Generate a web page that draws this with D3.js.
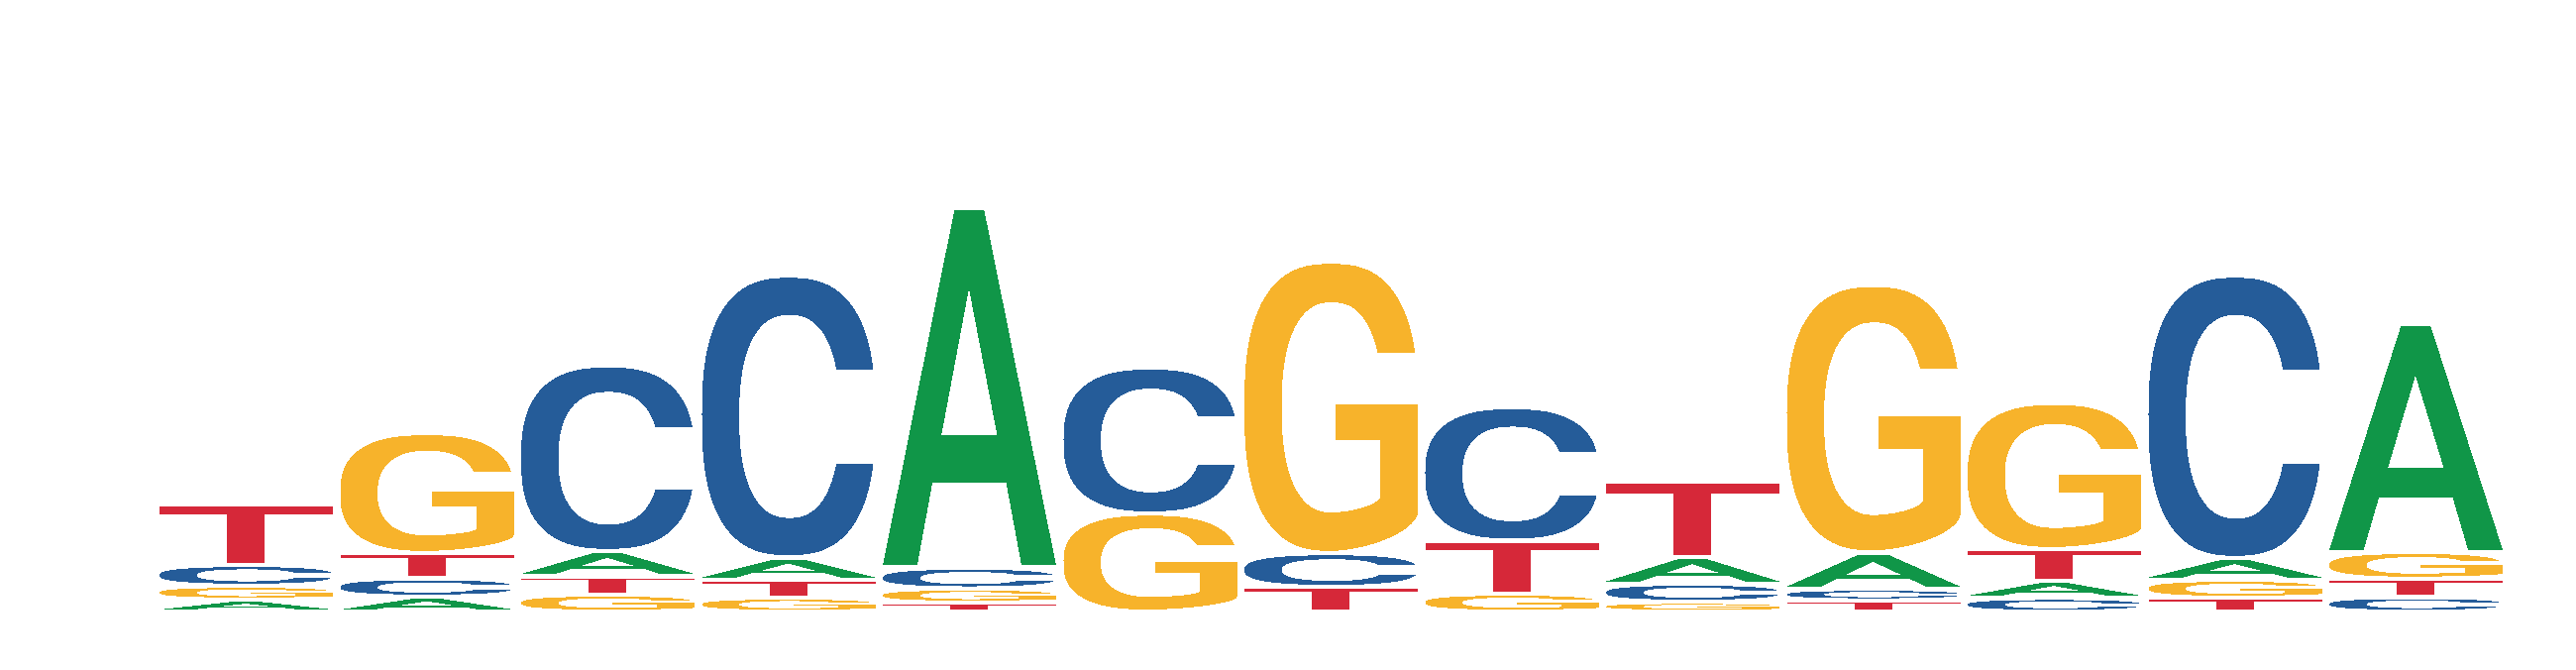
<!DOCTYPE html>
<html>
<head>
<meta charset="utf-8">
<script src="https://cdn.jsdelivr.net/npm/d3@7"></script>
<style>
  html, body { margin: 0; padding: 0; background: #ffffff; }
  svg { display: block; }
</style>
</head>
<body>
<svg id="chart" width="2600" height="676"></svg>
<script>
// Sequence logo data: information (bits) per letter at each position
const positions = [1, 2, 3, 4, 5, 6, 7, 8, 9, 10, 11, 12, 13];
const letters = ["A", "C", "G", "T"];
const bitsA = [0.040, 0.050, 0.083, 0.074, 1.190, 0.000, 0.000, 0.000, 0.088, 0.120, 0.056, 0.072, 0.754];
const bitsC = [0.069, 0.061, 0.614, 0.932, 0.069, 0.483, 0.112, 0.442, 0.060, 0.0385, 0.046, 0.934, 0.049];
const bitsG = [0.046, 0.397, 0.057, 0.047, 0.047, 0.325, 0.964, 0.060, 0.033, 0.885, 0.484, 0.060, 0.089];
const bitsT = [0.201, 0.083, 0.061, 0.059, 0.030, 0.000, 0.082, 0.175, 0.250, 0.0375, 0.105, 0.046, 0.060];
const yDomain = [0, 2];
const colors = { A: "#109648", C: "#255C99", G: "#F7B32B", T: "#D62839" };

const series = { A: bitsA, C: bitsC, G: bitsG, T: bitsT };

// ---- glyph outlines in a unit box (u: 0..1 left->right, v: 0..1 top->bottom) ----
function se(cx, cy, rx, ry, n, t) {
  const c = Math.cos(t), s = Math.sin(t);
  return [cx + rx * Math.sign(c) * Math.pow(Math.abs(c), 2 / n),
          cy + ry * Math.sign(s) * Math.pow(Math.abs(s), 2 / n)];
}
function tAtY(cy, ry, n, y) {
  const r = Math.min(1, Math.abs(y - cy) / ry);
  return Math.asin(Math.pow(r, n / 2));
}
function arc(cx, cy, rx, ry, n, t0, t1, steps) {
  const pts = [];
  for (let i = 0; i <= steps; i++) pts.push(se(cx, cy, rx, ry, n, t0 + (t1 - t0) * i / steps));
  return pts;
}
const NO = 2.6, NI = 2.4;
const OUT = [0.5, 0.5, 0.5, 0.5];
const INN = [0.505, 0.5, 0.29, 0.366];

function glyphC() {
  const a1 = tAtY(OUT[1], OUT[3], NO, 0.331), a2 = tAtY(OUT[1], OUT[3], NO, 0.671);
  const b1 = tAtY(INN[1], INN[3], NI, 0.331), b2 = tAtY(INN[1], INN[3], NI, 0.671);
  const outer = arc(...OUT, NO, -a1, -(2 * Math.PI - a2), 140);
  const inner = arc(...INN, NI, -(2 * Math.PI - b2), -b1, 120);
  return [outer.concat(inner)];
}
function glyphG() {
  const a1 = tAtY(OUT[1], OUT[3], NO, 0.311);
  const b1 = tAtY(INN[1], INN[3], NI, 0.311);
  const outer = arc(...OUT, NO, -a1, -1.5 * Math.PI, 120);              // top terminal -> top -> left -> bottom
  const outerCorner = arc(0.5, 0.867, 0.5, 0.133, 1.7, Math.PI / 2, 0, 30); // bottom -> right stem
  const bar = [[1.0, 0.491], [0.526, 0.491], [0.526, 0.614], [0.785, 0.614], [0.785, 0.81]];
  const innerCorner = arc(0.505, 0.81, 0.28, 0.056, 1.7, 0, Math.PI / 2, 24);
  const inner = arc(...INN, NI, -1.5 * Math.PI, -b1, 110);
  return [outer.concat(outerCorner, bar, innerCorner, inner)];
}
function glyphA() {
  return [
    [[0, 1], [0.413, 0], [0.585, 0], [1, 1], [0.8, 1], [0.712, 0.768], [0.286, 0.768], [0.199, 1]],
    [[0.497, 0.221], [0.659, 0.632], [0.339, 0.632]]
  ];
}
function glyphT() {
  return [[[0, 0], [1, 0], [1, 0.14], [0.608, 0.14], [0.608, 1], [0.39, 1], [0.39, 0.14], [0, 0.14]]];
}
const glyphs = { A: glyphA(), C: glyphC(), G: glyphG(), T: glyphT() };

function draw() {
  const svg = d3.select("#chart");
  const x = d3.scaleBand().domain(positions).range([161, 2526]).paddingInner(7.5 / 182.5).paddingOuter(0);
  const y = d3.scaleLinear().domain(yDomain).range([615, 5]);
  const gapPx = 4.5;

  const stacks = positions.map((p, i) => {
    const items = letters.map(L => ({ letter: L, value: series[L][i] }))
      .filter(d => d.value > 0)
      .sort((a, b) => a.value - b.value);
    let cum = 0;
    items.forEach(d => { d.y0 = cum; cum += d.value; d.y1 = cum; d.pos = p; });
    return items;
  });

  const g = svg.append("g");
  stacks.forEach(items => {
    items.forEach(d => {
      const x0 = x(d.pos), w = x.bandwidth();
      const bottom = y(d.y0);
      const top = y(d.y1) + gapPx;
      const h = bottom - top;
      if (h <= 0.5) return;
      const sx = d3.scaleLinear().domain([0, 1]).range([x0, x0 + w]);
      const sy = d3.scaleLinear().domain([0, 1]).range([top, bottom]);
      const p = d3.path();
      glyphs[d.letter].forEach(poly => {
        poly.forEach((pt, k) => {
          if (k === 0) p.moveTo(sx(pt[0]), sy(pt[1])); else p.lineTo(sx(pt[0]), sy(pt[1]));
        });
        p.closePath();
      });
      g.append("path")
        .attr("d", p.toString())
        .attr("fill", colors[d.letter])
        .attr("fill-rule", "evenodd")
        .attr("shape-rendering", "crispEdges");
    });
  });
}
draw();
</script>
</body>
</html>
